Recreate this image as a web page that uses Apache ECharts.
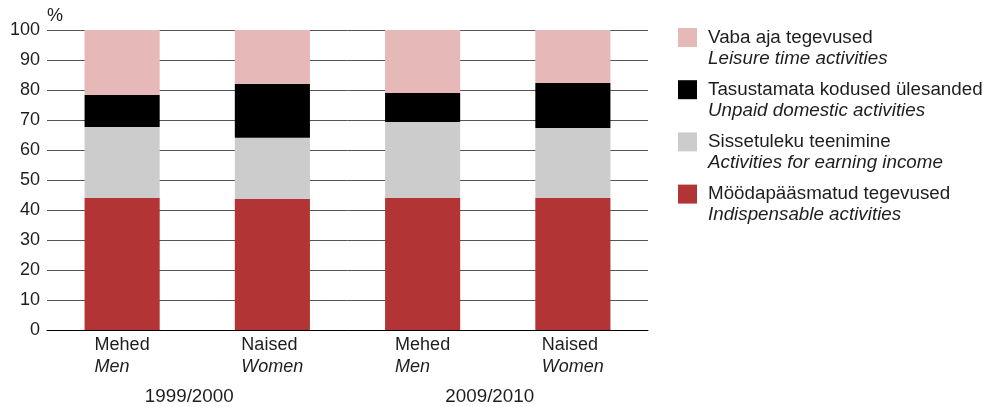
<!DOCTYPE html>
<html><head><meta charset="utf-8">
<script src="https://cdn.jsdelivr.net/npm/echarts@6/dist/echarts.min.js"></script>
<style>html,body{margin:0;padding:0;background:#fff}#c{width:989px;height:407px}</style>
</head><body><div id="c"></div>
<script>
var categories = ['Mehed|Men', 'Naised|Women', 'Mehed|Men', 'Naised|Women'];
var periods = ['1999/2000', '2009/2010'];
var seriesNamesEt = ['Möödapääsmatud tegevused', 'Sissetuleku teenimine', 'Tasustamata kodused ülesanded', 'Vaba aja tegevused'];
var seriesNamesEn = ['Indispensable activities', 'Activities for earning income', 'Unpaid domestic activities', 'Leisure time activities'];
var indispensable = [44.0, 43.7, 44.0, 44.0];
var earning = [23.7, 20.4, 25.3, 23.3];
var unpaid = [10.6, 18.0, 9.7, 15.0];
var leisure = [21.7, 17.9, 21.0, 17.7];
var yTicks = [0, 10, 20, 30, 40, 50, 60, 70, 80, 90, 100];

var colors = ['#b33434', '#cccccc', '#000000', '#e6b8b8'];
var values = [indispensable, earning, unpaid, leisure];
var enMap = {};
seriesNamesEt.forEach(function (n, i) { enMap[n] = seriesNamesEn[i]; });

var font = 'Liberation Sans, Arial, sans-serif';
var txt = '#1e1e1e';
var fs = 18;
var lfs = 18.8;

var chart = echarts.init(document.getElementById('c'), null, {renderer: 'canvas'});
chart.setOption({
  animation: false,
  textStyle: {fontFamily: font},
  grid: {left: 47, right: 341, top: 30, bottom: 77, containLabel: false},
  legend: {
    orient: 'vertical',
    left: 673,
    top: 23,
    itemWidth: 19,
    itemHeight: 19,
    itemGap: 12.2,
    icon: 'rect',
    data: seriesNamesEt.slice().reverse(),
    formatter: function (n) { return '{a|' + n + '}\n{b|' + enMap[n] + '}'; },
    textStyle: {
      padding: [21, 0, 0, 0],
      color: txt,
      rich: {
        a: {fontSize: lfs, lineHeight: 21, color: txt, fontFamily: font, padding: [0, 0, 0, 6]},
        b: {fontSize: lfs, lineHeight: 21, color: txt, fontFamily: font, fontStyle: 'italic', padding: [0, 0, 0, 6]}
      }
    }
  },
  xAxis: [{
    type: 'category',
    data: categories,
    axisLine: {show: true, lineStyle: {color: '#000', width: 1}},
    axisTick: {show: false},
    axisLabel: {
      margin: 4,
      formatter: function (v) { var p = v.split('|'); return '{a|' + p[0] + '}\n{b|' + p[1] + '}'; },
      rich: {
        a: {fontSize: fs, lineHeight: 22, color: txt, fontFamily: font, align: 'left'},
        b: {fontSize: fs, lineHeight: 22, color: txt, fontFamily: font, fontStyle: 'italic', align: 'left'}
      }
    }
  }, {
    type: 'category',
    data: periods,
    position: 'bottom',
    gridIndex: 0,
    axisLine: {show: false},
    axisTick: {show: false},
    splitLine: {show: false},
    axisLabel: {margin: 57, fontSize: lfs, lineHeight: 20, color: txt, fontFamily: font, padding: [0, 16, 0, 0]}
  }],
  yAxis: {
    type: 'value',
    min: yTicks[0],
    max: yTicks[yTicks.length - 1],
    interval: 10,
    name: '%',
    nameLocation: 'end',
    nameGap: 5,
    nameTextStyle: {fontSize: fs, color: txt, align: 'left', fontFamily: font},
    axisLine: {show: false},
    axisTick: {show: false},
    axisLabel: {margin: 7, fontSize: fs, color: txt, fontFamily: font},
    splitLine: {show: true, lineStyle: {color: '#555', width: 1}}
  },
  series: seriesNamesEt.map(function (n, i) {
    return {
      name: n,
      type: 'bar',
      stack: 'total',
      barWidth: '50%',
      xAxisIndex: 0,
      itemStyle: {color: colors[i]},
      data: values[i]
    };
  })
});
</script></body></html>
